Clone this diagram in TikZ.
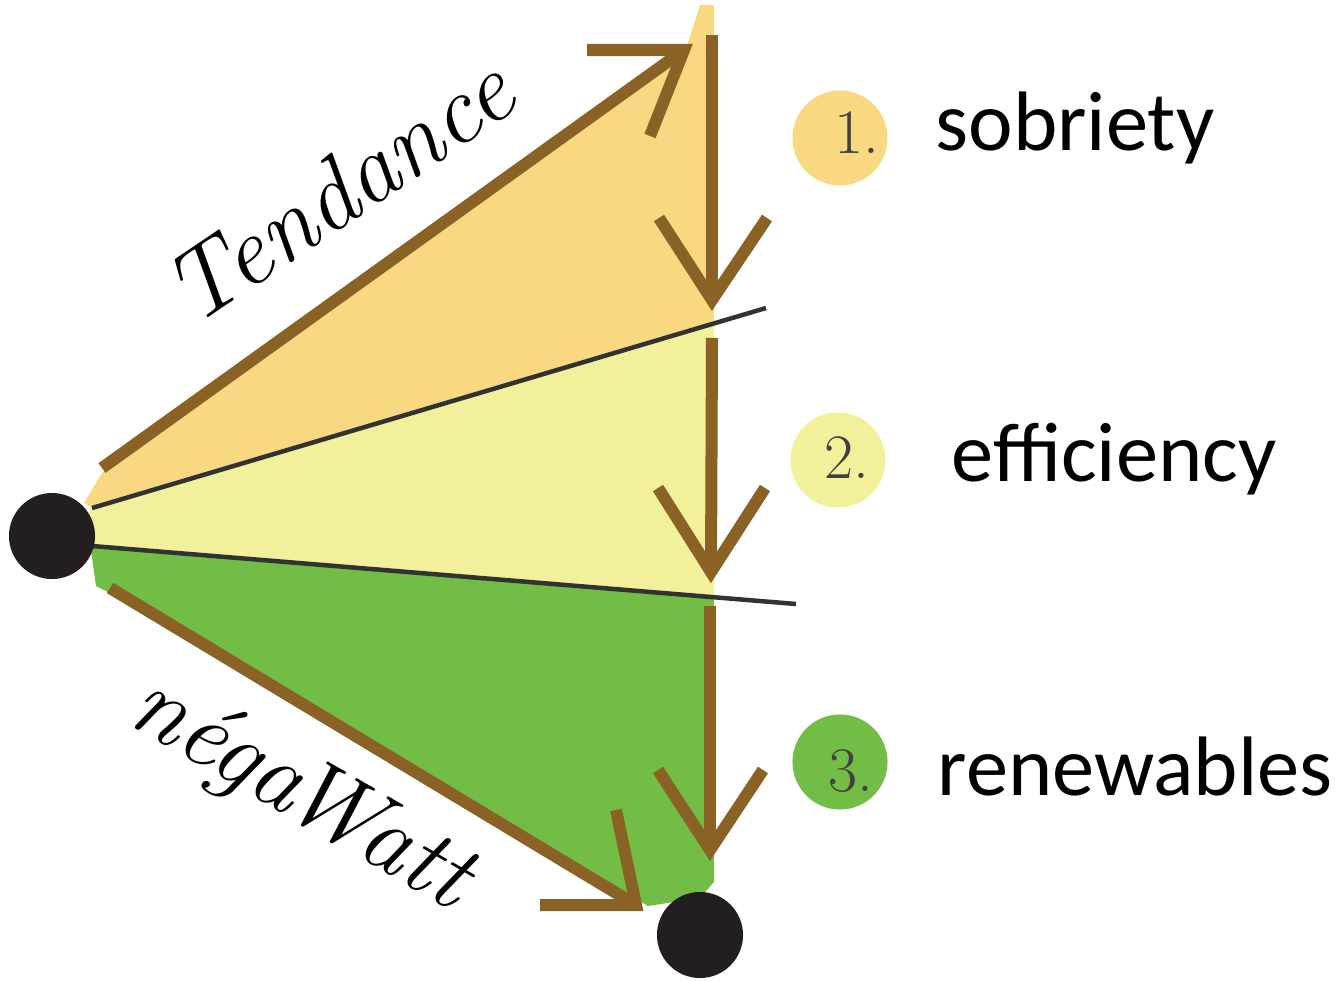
\documentclass[tikz,border=0pt]{standalone}
\usepackage{fontspec}
\newfontfamily\calibri{Carlito}
\usetikzlibrary{calc}
\definecolor{brn}{RGB}{139,98,38}
\definecolor{fillA}{RGB}{248,217,130}
\definecolor{fillB}{RGB}{243,240,155}
\definecolor{fillC}{RGB}{114,189,69}
\definecolor{dotc}{RGB}{35,31,32}
\definecolor{sepc}{RGB}{50,50,50}
\begin{document}
\begin{tikzpicture}[x=0.01cm,y=-0.01cm,
  shaft/.style={draw=brn, line width=0.12cm},
  barb/.style={draw=brn, line width=0.12cm, miter limit=10},
  divider/.style={draw=sepc, line width=0.045cm},
  bigdot/.style={circle, fill=dotc, inner sep=0pt, minimum size=0.86cm},
  badge/.style={circle, inner sep=0pt, minimum size=0.95cm},
  num/.style={font=\fontsize{18}{20}\selectfont, text=black!75, inner sep=0pt},
  lbl/.style={font=\calibri\fontsize{24}{28}\selectfont, inner sep=0pt, anchor=base west},
  hand/.style={font=\itshape\fontsize{28}{30}\selectfont, inner sep=0pt}]

\useasboundingbox (0,0) rectangle (1342,982);

% coloured sectors
\fill[fillA] (84,503) -- (102,473) -- (684,55) -- (700,5) -- (714,5) -- (714,323) -- (92,508) -- cycle;
\fill[fillB] (90,506) -- (714,323) -- (714,597) -- (90,546) -- cycle;
\fill[fillC] (90,544) -- (714,597) -- (714,882) -- (700,898) -- (648,906) -- (108,592) -- (96,586) -- cycle;

% separating lines
\coordinate (d1s) at (92,508);
\coordinate (d1e) at (766,308);
\coordinate (d2s) at (92,546);
\coordinate (d2e) at (796,604);
\draw[divider] (d1s) -- (d1e);
\draw[divider] (d2s) -- (d2e);

% dots
\node[bigdot] (src) at (52,536) {};
\node[bigdot] (dst) at (700,935) {};

% Tendance arrow
\coordinate (tA) at (102,468);
\coordinate (t1) at (684,50);
\draw[shaft] (tA) -- (t1);
\draw[barb] ($(t1)+(-97,0)$) -- (t1) -- ($(t1)+(-34,86)$);

% negaWatt arrow
\coordinate (nA) at (110,588);
\coordinate (t2) at (636,905);
\draw[shaft] (nA) -- (t2);
\draw[barb] ($(t2)+(-96,0)$) -- (t2) -- ($(t2)+(-20,-95)$);

% vertical arrows
\coordinate (v0) at (712,35);
\coordinate (v1) at (712,300);
\coordinate (v2) at (712,338);
\coordinate (v3) at (711,572);
\coordinate (v4) at (710,606);
\coordinate (v5) at (710,850);
\draw[shaft] (v0) -- (v1);
\draw[barb] ($(v1)+(-53,-82)$) -- (v1) -- ($(v1)+(55,-82)$);
\draw[shaft] (v2) -- (v3);
\draw[barb] ($(v3)+(-53,-84)$) -- (v3) -- ($(v3)+(54,-84)$);
\draw[shaft] (v4) -- (v5);
\draw[barb] ($(v5)+(-52,-80)$) -- (v5) -- ($(v5)+(53,-80)$);

% handwritten labels
\node[hand, rotate=34] (tend) at (338,190) {Tendance};
\node[hand, rotate=-30] (nega) at (300,795) {néga\kern-0.12em Watt};

% legend
\node[badge, fill=fillA] (b1) at (840,138) {};
\node[badge, fill=fillB] (b2) at (838,460) {};
\node[badge, fill=fillC] (b3) at (840,762) {};
\node[num] (n1) at (857,133) {1.};
\node[num] (n2) at (847,458) {2.};
\node[num] (n3) at (851,771) {3.};
\node[lbl] (l1) at (935,151) {sobriety};
\node[lbl] (l2) at (951,481) {efficiency};
\node[lbl] (l3) at (937,795) {renewables};
\end{tikzpicture}
\end{document}
